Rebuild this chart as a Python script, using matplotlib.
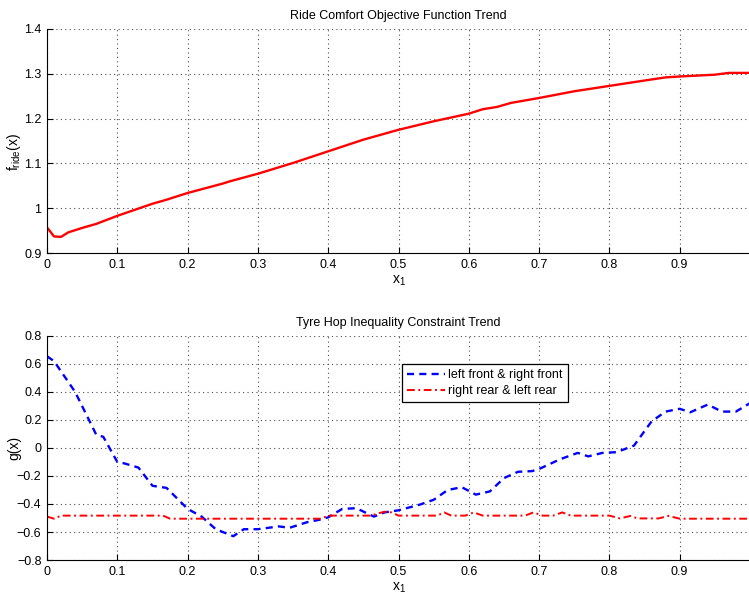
import numpy as np
import matplotlib.pyplot as plt

plt.rcParams['font.family'] = ['Liberation Sans', 'DejaVu Sans']
plt.rcParams['mathtext.fontset'] = 'custom'
plt.rcParams['mathtext.rm'] = 'Liberation Sans'
plt.rcParams['mathtext.it'] = 'Liberation Sans'

# ride comfort objective
x_ride = [0, 0.01, 0.02, 0.03, 0.05, 0.07, 0.08, 0.1, 0.15, 0.17, 0.2, 0.25, 0.26,
          0.3, 0.35, 0.4, 0.45, 0.5, 0.55, 0.6, 0.62, 0.64, 0.66, 0.7, 0.75, 0.8,
          0.85, 0.88, 0.9, 0.95, 0.97, 1.0]
f_ride = [0.957, 0.937, 0.936, 0.946, 0.956, 0.965, 0.971, 0.983, 1.010, 1.019, 1.034,
          1.055, 1.060, 1.077, 1.101, 1.127, 1.153, 1.175, 1.194, 1.211, 1.221, 1.226,
          1.235, 1.246, 1.261, 1.273, 1.285, 1.292, 1.294, 1.298, 1.302, 1.302]

# tyre hop constraints
x_front = [0, 0.01, 0.04, 0.07, 0.08, 0.1, 0.11, 0.13, 0.15, 0.17, 0.2, 0.22, 0.24,
           0.265, 0.28, 0.3, 0.33, 0.345, 0.37, 0.39, 0.4, 0.42, 0.44, 0.465, 0.48,
           0.5, 0.53, 0.55, 0.57, 0.59, 0.61, 0.63, 0.65, 0.67, 0.69, 0.7, 0.73,
           0.755, 0.77, 0.79, 0.81, 0.835, 0.86, 0.88, 0.9, 0.915, 0.94, 0.96, 0.98, 1.0]
g_front = [0.655, 0.62, 0.40, 0.095, 0.08, -0.10, -0.11, -0.14, -0.27, -0.285, -0.435,
           -0.49, -0.58, -0.63, -0.58, -0.58, -0.56, -0.57, -0.53, -0.51, -0.495,
           -0.435, -0.43, -0.49, -0.46, -0.445, -0.405, -0.37, -0.30, -0.28, -0.333,
           -0.31, -0.215, -0.17, -0.165, -0.15, -0.08, -0.035, -0.06, -0.035, -0.03,
           0.017, 0.19, 0.26, 0.28, 0.255, 0.31, 0.26, 0.26, 0.32]

x_rear = [0, 0.01, 0.02, 0.165, 0.175, 0.39, 0.4, 0.46, 0.48, 0.49, 0.5, 0.555, 0.565,
          0.575, 0.595, 0.607, 0.62, 0.68, 0.692, 0.705, 0.72, 0.733, 0.745, 0.80,
          0.815, 0.83, 0.84, 0.87, 0.884, 0.9, 1.0]
g_rear = [-0.49, -0.505, -0.483, -0.483, -0.505, -0.505, -0.483, -0.483, -0.455, -0.46,
          -0.483, -0.483, -0.46, -0.483, -0.483, -0.46, -0.483, -0.483, -0.46, -0.483,
          -0.483, -0.46, -0.483, -0.483, -0.503, -0.485, -0.503, -0.503, -0.485,
          -0.505, -0.505]

fig = plt.figure(figsize=(7.49, 5.99), dpi=100)


def style_axes(ax):
	ax.spines['top'].set_visible(False)
	ax.spines['right'].set_visible(False)
	ax.tick_params(direction='in', length=4, labelsize=9, pad=4)
	ax.grid(True, linestyle=(0, (1, 3)), color='0.3', linewidth=0.8)
	ax.set_xlim(0, 1)
	ax.set_xticks(np.arange(0, 1.0, 0.1))
	ax.set_xticklabels(['0', '0.1', '0.2', '0.3', '0.4', '0.5', '0.6', '0.7', '0.8', '0.9'])


ax1 = fig.add_axes([0.0628, 0.5776, 0.9385, 0.374])
ax1.plot(x_ride, f_ride, color='red', linewidth=1.7)
style_axes(ax1)
ax1.set_ylim(0.9, 1.4)
ax1.set_yticks([0.9, 1.0, 1.1, 1.2, 1.3, 1.4])
ax1.set_yticklabels(['0.9', '1', '1.1', '1.2', '1.3', '1.4'])
ax1.set_title('Ride Comfort Objective Function Trend', fontsize=9, pad=7)
ax1.set_xlabel('$\\mathregular{x_1}$', fontsize=10, labelpad=2)
ax1.set_ylabel('$\\mathregular{f_{ride}(x)}$', fontsize=10)
ax1.yaxis.set_label_coords(-0.034, 0.45)

ax2 = fig.add_axes([0.0628, 0.0651, 0.9385, 0.374])
ax2.plot(x_front, g_front, color='blue', linestyle=(0, (3, 2.2)), linewidth=1.7,
		 label='left front & right front')
ax2.plot(x_rear, g_rear, color='red', linestyle=(0, (4, 1.8, 1, 1.8)), linewidth=1.4,
		 label='right rear & left rear')
style_axes(ax2)
ax2.set_ylim(-0.8, 0.8)
ax2.set_yticks(np.arange(-0.8, 0.81, 0.2))
ax2.set_yticklabels(['\u22120.8', '\u22120.6', '\u22120.4', '\u22120.2', '0', '0.2', '0.4', '0.6', '0.8'])
ax2.set_title('Tyre Hop Inequality Constraint Trend', fontsize=9, pad=7)
ax2.set_xlabel('$\\mathregular{x_1}$', fontsize=10, labelpad=2)
ax2.set_ylabel('g(x)', fontsize=10)
ax2.yaxis.set_label_coords(-0.037, 0.5)
leg = ax2.legend(loc='upper left', bbox_to_anchor=(0.505, 0.875), fontsize=9,
				 fancybox=False, framealpha=1, edgecolor='black', handlelength=3,
				 borderpad=0.4, labelspacing=0.35, handletextpad=0.3, borderaxespad=0)
leg.get_frame().set_linewidth(0.9)

plt.savefig('out.png', dpi=100)
